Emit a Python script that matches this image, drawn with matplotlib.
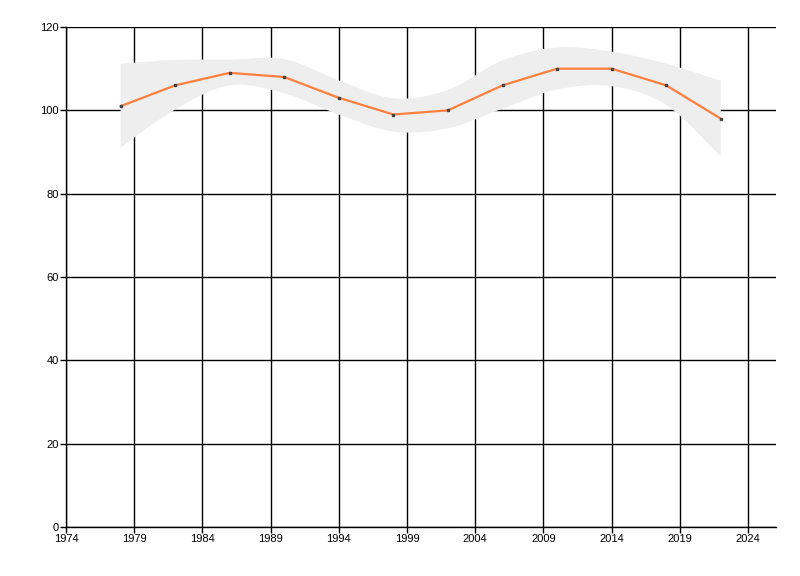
import numpy as np
import matplotlib
matplotlib.use("Agg")
import matplotlib.pyplot as plt

years = [1978, 1982, 1986, 1990, 1994, 1998, 2002, 2006, 2010, 2014, 2018, 2022]
values = [101, 106, 109, 108, 103, 99, 100, 106, 110, 110, 106, 98]
band_upper = [111.2, 112.1, 112.2, 112.3, 107.2, 102.9, 104.9, 112.0, 115.1, 114.1, 111.2, 107.1]
band_lower = [91.1, 100.2, 106.0, 104.1, 99.0, 94.9, 95.7, 100.4, 105.0, 105.8, 101.3, 89.0]
x_ticks = [1974, 1979, 1984, 1989, 1994, 1999, 2004, 2009, 2014, 2019, 2024]
y_ticks = [0, 20, 40, 60, 80, 100, 120]


def smooth(xs, ys, n=20):
    # Catmull-Rom rendering of a curve through the given points
    xs = np.asarray(xs, float)
    ys = np.asarray(ys, float)
    px = np.concatenate([[2 * xs[0] - xs[1]], xs, [2 * xs[-1] - xs[-2]]])
    py = np.concatenate([[2 * ys[0] - ys[1]], ys, [2 * ys[-1] - ys[-2]]])
    ox, oy = [], []
    t = np.linspace(0, 1, n, endpoint=False)
    for i in range(1, len(px) - 2):
        for arr, out in ((px, ox), (py, oy)):
            p0, p1, p2, p3 = arr[i - 1], arr[i], arr[i + 1], arr[i + 2]
            out.extend(0.5 * ((2 * p1) + (-p0 + p2) * t
                              + (2 * p0 - 5 * p1 + 4 * p2 - p3) * t ** 2
                              + (-p0 + 3 * p1 - 3 * p2 + p3) * t ** 3))
    ox.append(xs[-1]); oy.append(ys[-1])
    return np.array(ox), np.array(oy)


fig = plt.figure(figsize=(8, 5.76), dpi=100)
ax = fig.add_axes([0.0825, 0.0851, 0.8875, 0.868])

ux, uy = smooth(years, band_upper)
lx, ly = smooth(years, band_lower)
poly_x = np.concatenate([ux, lx[::-1]])
poly_y = np.concatenate([uy, ly[::-1]])
ax.fill(poly_x, poly_y, color="#EEEEEE", lw=0, zorder=1.5)

ax.plot(years, values, color="#FF7F3F", lw=1.6, zorder=3)
ax.plot(years, values, ls="none", marker="s", ms=2, color="#444444", zorder=4)

ax.set_xlim(1974, 2026.05)
ax.set_ylim(0, 120)
ax.set_xticks(x_ticks)
ax.set_yticks(y_ticks)
ax.grid(True, color="black", lw=1)
ax.set_axisbelow(True)
for s in ("top", "right"):
    ax.spines[s].set_visible(False)
for s in ("left", "bottom"):
    ax.spines[s].set_color("black")
    ax.spines[s].set_linewidth(1)
ax.tick_params(axis="both", direction="out", length=4, width=1, colors="black",
               labelsize=8, pad=1)
for lab in ax.get_xticklabels() + ax.get_yticklabels():
    lab.set_family("Liberation Sans")

fig.savefig("out.png", dpi=100)
